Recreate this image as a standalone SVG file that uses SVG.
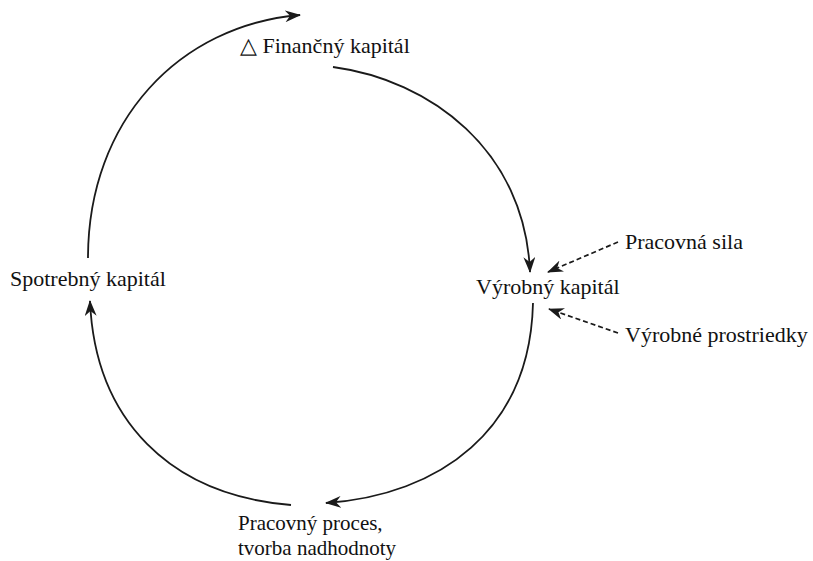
<svg xmlns="http://www.w3.org/2000/svg" width="813" height="561" viewBox="0 0 813 561">
  <defs>
    <marker id="head" viewBox="0 0 16 12" refX="15" refY="6" markerWidth="16" markerHeight="12" markerUnits="userSpaceOnUse" orient="auto">
      <path d="M0,0 L16,6 L0,12 L5,6 z" fill="#1a1a1a"/>
    </marker>
  </defs>
  <style>
    .lbl { font-family: "Liberation Serif", "Times New Roman", serif; font-size: 22px; fill: #111; }
    .two { font-size: 21px; }
    .arc { fill: none; stroke: #1a1a1a; stroke-width: 1.8; marker-end: url(#head); }
    .dash { fill: none; stroke: #1a1a1a; stroke-width: 1.7; stroke-dasharray: 5 3; marker-end: url(#head); }
  </style>
  <rect width="813" height="561" fill="#ffffff"/>

  <g id="connectors">
    <path class="arc" d="M88,258 C88,120 180,25 300,15"/>
    <path class="arc" d="M333,67 C430,80 525,150 530,272"/>
    <path class="arc" d="M533,303 C530,430 440,495 326,503"/>
    <path class="arc" d="M291,505 C170,495 95,420 90,301"/>
    <path class="dash" d="M618,242 L548,272"/>
    <path class="dash" d="M618,333 L549,309"/>
  </g>

  <g id="financny-kapital">
    <text class="lbl" x="240" y="53">△ Finančný kapitál</text>
  </g>
  <g id="vyrobny-kapital">
    <text class="lbl" x="476" y="294">Výrobný kapitál</text>
  </g>
  <g id="pracovna-sila">
    <text class="lbl" x="625" y="249">Pracovná sila</text>
  </g>
  <g id="vyrobne-prostriedky">
    <text class="lbl" x="625" y="342">Výrobné prostriedky</text>
  </g>
  <g id="pracovny-proces">
    <text class="lbl two" x="238" y="530">Pracovný proces,</text>
    <text class="lbl two" x="238" y="555">tvorba nadhodnoty</text>
  </g>
  <g id="spotrebny-kapital">
    <text class="lbl" x="10" y="286">Spotrebný kapitál</text>
  </g>
</svg>
